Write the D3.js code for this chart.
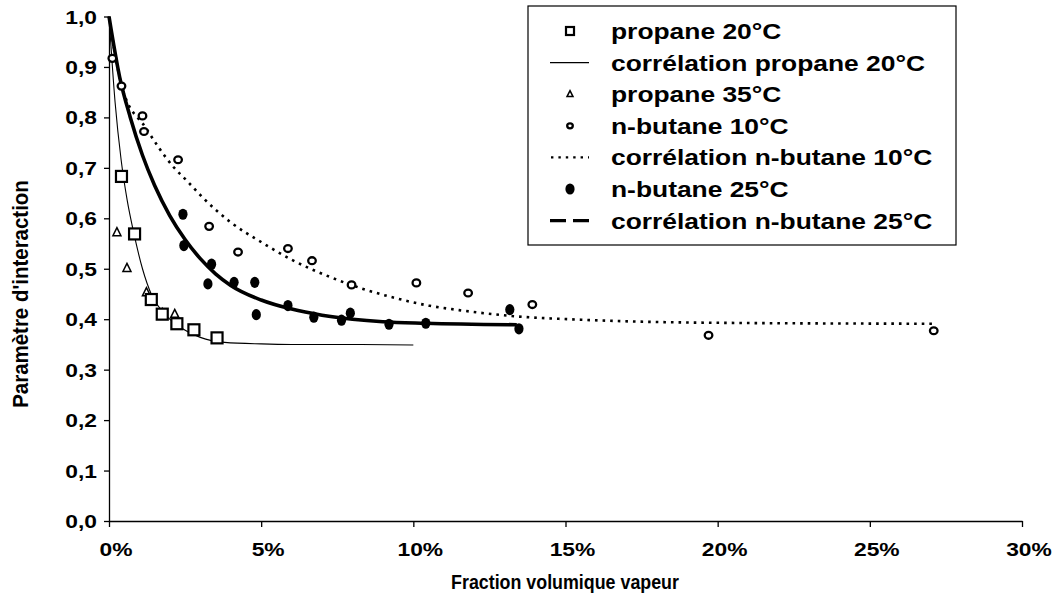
<!DOCTYPE html>
<html><head><meta charset="utf-8">
<script src="https://cdn.jsdelivr.net/npm/d3@7"></script>
<style>
html,body{margin:0;padding:0;background:#fff;}
svg text{font-family:"Liberation Sans",Arial,Helvetica,sans-serif;font-weight:bold;fill:#000;}
</style></head>
<body><svg id="c" width="1057" height="596"></svg>
<script>
// ---- data (x in % volume fraction, y = interaction parameter) ----
const xTickValues = [0, 5, 10, 15, 20, 25, 30];
const xTickLabels = ["0%", "5%", "10%", "15%", "20%", "25%", "30%"];
const yTickValues = [0, 0.1, 0.2, 0.3, 0.4, 0.5, 0.6, 0.7, 0.8, 0.9, 1.0];
const yTickLabels = ["0,0", "0,1", "0,2", "0,3", "0,4", "0,5", "0,6", "0,7", "0,8", "0,9", "1,0"];

const propane20 = [[0.41, 0.683], [0.84, 0.569], [1.39, 0.439], [1.75, 0.410], [2.23, 0.391], [2.79, 0.379], [3.55, 0.363]];
const propane35 = [[0.26, 0.572], [0.59, 0.501], [1.23, 0.453], [1.75, 0.412], [2.16, 0.410]];
const butane10 = [[0.11, 0.917], [0.41, 0.862], [1.10, 0.803], [1.15, 0.772], [2.27, 0.716], [3.29, 0.584], [4.24, 0.533], [5.88, 0.540], [6.67, 0.516], [7.97, 0.468], [10.10, 0.472], [11.80, 0.452], [13.91, 0.429], [19.70, 0.368], [27.10, 0.377]];
const butane25 = [[2.43, 0.608], [2.46, 0.546], [3.37, 0.509], [3.25, 0.470], [4.11, 0.473], [4.79, 0.473], [4.84, 0.409], [5.88, 0.427], [6.73, 0.404], [7.64, 0.398], [7.93, 0.412], [9.20, 0.390], [10.41, 0.392], [13.17, 0.419], [13.47, 0.381]];

const corrPropane20 = [[0, 1.0], [0.2, 0.83], [0.4, 0.715], [0.6, 0.635], [0.8, 0.575], [1.1, 0.5], [1.4, 0.448], [1.8, 0.412], [2.3, 0.386], [3.0, 0.364], [3.8, 0.354], [5, 0.351], [6, 0.350], [8, 0.350], [10, 0.349]];
const corrButane10 = [[0, 1.0], [0.45, 0.855], [1.2, 0.78], [2.1, 0.703], [2.55, 0.675], [3.1, 0.64], [4.0, 0.592], [5.0, 0.553], [6.0, 0.518], [7.25, 0.484], [8.35, 0.46], [9.4, 0.442], [10.5, 0.427], [11.5, 0.418], [13.3, 0.406], [15.5, 0.399], [19.7, 0.393], [27.1, 0.391]];
const corrButane25 = [[0, 1.0], [0.35, 0.88], [0.7, 0.80], [1.1, 0.725], [1.5, 0.665], [2.0, 0.605], [2.5, 0.558], [3.0, 0.52], [3.5, 0.49], [4.0, 0.467], [5.0, 0.438], [6.0, 0.42], [7.0, 0.408], [8.0, 0.40], [9.0, 0.395], [10.4, 0.392], [13.4, 0.389]];

const legendLabels = ["propane 20°C", "corrélation propane 20°C", "propane 35°C", "n-butane 10°C", "corrélation n-butane 10°C", "n-butane 25°C", "corrélation n-butane 25°C"];
const xTitle = "Fraction volumique vapeur";
const yTitle = "Paramètre d'interaction";

// ---- drawing ----
const svg = d3.select("#c");
const SX = 1.2; // horizontal stretch of glyphs seen in the reference
const x = d3.scaleLinear().domain([0, 30]).range([109, 1022]);
const y = d3.scaleLinear().domain([0, 1]).range([521, 16.5]);

// axes
const xAxis = d3.axisBottom(x).tickValues(xTickValues).tickFormat("").tickSize(6).tickSizeOuter(0);
const yAxis = d3.axisLeft(y).tickValues(yTickValues).tickFormat("").tickSize(5).tickSizeOuter(0);
const gx = svg.append("g").attr("transform", `translate(0,${y(0)})`).call(xAxis);
const gy = svg.append("g").attr("transform", `translate(${x(0)},0)`).call(yAxis);
[gx, gy].forEach(g => { g.select(".domain").attr("stroke", "#000").attr("stroke-width", 1.3); g.selectAll(".tick line").attr("stroke", "#000").attr("stroke-width", 1.3); });

// tick labels
svg.append("g").selectAll("text").data(xTickValues).join("text")
  .attr("transform", (d) => `translate(${x(d) + 7},556) scale(${SX},1)`)
  .attr("text-anchor", "middle").style("font-size", "19px")
  .text((d, i) => xTickLabels[i]);
svg.append("g").selectAll("text").data(yTickValues).join("text")
  .attr("transform", (d) => `translate(97,${y(d) + 7}) scale(${SX},1)`)
  .attr("text-anchor", "end").style("font-size", "19px")
  .text((d, i) => yTickLabels[i]);

// axis titles (condensed bold)
svg.append("text").attr("transform", `translate(565,589) scale(0.85,1)`)
  .attr("text-anchor", "middle").style("font-size", "21px").text(xTitle);
svg.append("text").attr("transform", `translate(28,294) rotate(-90) scale(0.93,1)`)
  .attr("text-anchor", "middle").style("font-size", "22px").text(yTitle);

// correlation lines
const line = d3.line().x(d => x(d[0])).y(d => y(d[1])).curve(d3.curveMonotoneX);
svg.append("path").datum(corrPropane20).attr("d", line).attr("fill", "none").attr("stroke", "#000").attr("stroke-width", 1.1);
svg.append("path").datum(corrButane10).attr("d", line).attr("fill", "none").attr("stroke", "#000").attr("stroke-width", 2.6).attr("stroke-dasharray", "2.6,5");
svg.append("path").datum(corrButane25).attr("d", line).attr("fill", "none").attr("stroke", "#000").attr("stroke-width", 3.6);

// markers
function square(g, cx, cy, s) { g.append("rect").attr("x", cx - s / 2).attr("y", cy - s / 2).attr("width", s).attr("height", s).attr("fill", "#fff").attr("stroke", "#000").attr("stroke-width", 2.2); }
function tri(g, cx, cy, s) { g.append("path").attr("d", `M${cx},${cy - s * 0.6}L${cx + s / 2},${cy + s * 0.4}L${cx - s / 2},${cy + s * 0.4}Z`).attr("fill", "#fff").attr("stroke", "#000").attr("stroke-width", 1.5); }
function ring(g, cx, cy, r) { g.append("ellipse").attr("cx", cx).attr("cy", cy).attr("rx", r).attr("ry", r * 0.9).attr("fill", "#fff").attr("stroke", "#000").attr("stroke-width", 2.3); }
function dot(g, cx, cy) { g.append("ellipse").attr("cx", cx).attr("cy", cy).attr("rx", 4.6).attr("ry", 5.6).attr("fill", "#000"); }

const gm = svg.append("g");
butane10.forEach(d => ring(gm, x(d[0]), y(d[1]), 3.8));
butane25.forEach(d => dot(gm, x(d[0]), y(d[1])));
propane35.forEach(d => tri(gm, x(d[0]), y(d[1]), 8));
propane20.forEach(d => square(gm, x(d[0]), y(d[1]), 11));

// legend
const lg = svg.append("g");
lg.append("rect").attr("x", 528).attr("y", 6).attr("width", 428).attr("height", 239).attr("fill", "#fff").attr("stroke", "#000").attr("stroke-width", 1.2);
const rowY = i => 31 + i * 31.6;
legendLabels.forEach((t, i) => {
  lg.append("text").attr("transform", `translate(611,${rowY(i) + 8}) scale(${SX},1)`).style("font-size", "22px").text(t);
});
square(lg, 570, rowY(0), 8);
lg.append("line").attr("x1", 550).attr("x2", 589).attr("y1", rowY(1)).attr("y2", rowY(1)).attr("stroke", "#000").attr("stroke-width", 1.1);
tri(lg, 570, rowY(2), 6);
ring(lg, 570, rowY(3), 2.8);
lg.append("line").attr("x1", 551).attr("x2", 589).attr("y1", rowY(4)).attr("y2", rowY(4)).attr("stroke", "#000").attr("stroke-width", 2.4).attr("stroke-dasharray", "2.4,5");
dot(lg, 570, rowY(5));
lg.append("line").attr("x1", 550).attr("x2", 589).attr("y1", rowY(6)).attr("y2", rowY(6)).attr("stroke", "#000").attr("stroke-width", 3.4).attr("stroke-dasharray", "16,7");
</script></body></html>
